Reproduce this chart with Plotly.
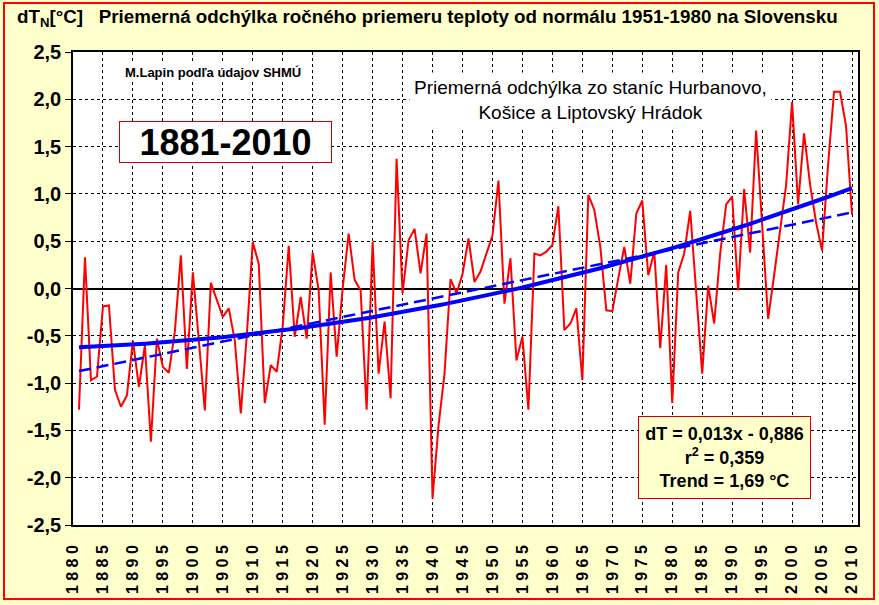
import numpy as np
import plotly.graph_objects as go

# ---------------- data ----------------
YEARS = list(range(1881, 2011))
ANOMALY = [
    -1.28, 0.33, -0.97, -0.93, -0.19, -0.18, -1.07, -1.25, -1.13, -0.55,   # 1881-1890
    -1.04, -0.60, -1.62, -0.53, -0.83, -0.89, -0.45, 0.35, -0.85, 0.17,    # 1891-1900
    -0.55, -1.29, 0.06, -0.13, -0.30, -0.21, -0.55, -1.32, -0.50, 0.49,    # 1901-1910
    0.26, -1.21, -0.81, -0.88, -0.40, 0.45, -0.51, -0.09, -0.53, 0.38,     # 1911-1920
    -0.02, -1.44, 0.17, -0.72, 0.00, 0.58, 0.09, -0.02, -1.28, 0.49,       # 1921-1930
    -0.90, -0.35, -1.16, 1.37, -0.05, 0.51, 0.63, 0.16, 0.58, -2.22,       # 1931-1940
    -1.45, -0.90, 0.10, -0.05, 0.15, 0.53, 0.07, 0.18, 0.37, 0.56,         # 1941-1950
    1.14, -0.16, 0.32, -0.76, -0.51, -1.28, 0.37, 0.35, 0.39, 0.46,        # 1951-1960
    0.87, -0.44, -0.37, -0.21, -0.97, 0.99, 0.83, 0.44, -0.23, -0.24,      # 1961-1970
    0.11, 0.44, 0.05, 0.79, 0.93, 0.14, 0.39, -0.63, 0.25, -1.21,          # 1971-1980
    0.17, 0.37, 0.82, -0.06, -0.90, 0.03, -0.37, 0.37, 0.89, 0.97,         # 1981-1990
    -0.02, 1.05, 0.38, 1.67, 0.67, -0.32, 0.14, 0.63, 1.09, 1.97,          # 1991-2000
    0.89, 1.64, 1.10, 0.70, 0.40, 1.30, 2.08, 2.08, 1.72, 0.78,            # 2001-2010
]
TREND_SLOPE = 0.013
TREND_INTERCEPT = -0.886
POLY_ORDER = 2

X_TICK_YEARS = list(range(1880, 2011, 5))
Y_TICK_VALUES = [2.5, 2.0, 1.5, 1.0, 0.5, 0.0, -0.5, -1.0, -1.5, -2.0, -2.5]
Y_TICK_LABELS = ["2,5", "2,0", "1,5", "1,0", "0,5", "0,0", "-0,5", "-1,0", "-1,5", "-2,0", "-2,5"]

TITLE = "dT<sub>N</sub>[°C]\u00a0\u00a0\u00a0Priemerná odchýlka ročného priemeru teploty od normálu 1951-1980 na Slovensku"
AUTHOR = "M.Lapin podľa údajov SHMÚ"
STATIONS = "Priemerná odchýlka zo staníc Hurbanovo,<br>Košice a Liptovský Hrádok"
PERIOD = "1881-2010"
STATS = "dT = 0,013x - 0,886<br>r<sup>2</sup> = 0,359<br>Trend = 1,69 °C"

# ---------------- derived trend lines ----------------
idx = np.arange(1, len(YEARS) + 1)
lin_trend = TREND_SLOPE * idx + TREND_INTERCEPT
poly = np.polyfit(idx, np.array(ANOMALY), POLY_ORDER)
poly_trend = np.polyval(poly, idx)

# ---------------- layout geometry (pixels) ----------------
W, H = 879, 605
L, R, T, B = 73, 858, 52, 525
PW, PH = R - L, B - T


def px(x):
    return (x - L) / PW


def py(y):
    return (B - y) / PH


FONT = "Arial, 'Liberation Sans', sans-serif"
BG = "#FFFFCC"

fig = go.Figure()
fig.add_trace(go.Scatter(x=YEARS, y=ANOMALY, mode="lines",
                         line=dict(color="#FF0000", width=2), hoverinfo="x+y"))
fig.add_trace(go.Scatter(x=YEARS, y=poly_trend, mode="lines",
                         line=dict(color="#0000FF", width=4)))
fig.add_trace(go.Scatter(x=YEARS, y=lin_trend, mode="lines",
                         line=dict(color="#0000FF", width=2.5, dash="12px,6px")))

xticktext = [" ".join(str(y)) for y in X_TICK_YEARS]

fig.update_layout(
    width=W, height=H,
    margin=dict(l=L, r=W - R, t=T, b=H - B, pad=0),
    paper_bgcolor=BG, plot_bgcolor="white",
    showlegend=False,
    font=dict(family=FONT, color="black"),
    xaxis=dict(range=[1880, 2011], tickmode="array", tickvals=X_TICK_YEARS,
               ticktext=xticktext, tickangle=-90,
               tickfont=dict(size=16, family=FONT, weight="bold"),
               showgrid=True, gridcolor="black", gridwidth=1, griddash="3px,3px",
               showline=True, linecolor="black", linewidth=1.5, mirror=True,
               ticks="", ticklabelstandoff=12, zeroline=False),
    yaxis=dict(range=[-2.5, 2.5], tickmode="array", tickvals=Y_TICK_VALUES,
               ticktext=Y_TICK_LABELS,
               tickfont=dict(size=20, family=FONT, weight="bold"),
               showgrid=True, gridcolor="black", gridwidth=1, griddash="3px,3px",
               showline=True, linecolor="black", linewidth=1.5, mirror=True,
               ticks="outside", ticklen=6, tickcolor="black",
               zeroline=True, zerolinecolor="black", zerolinewidth=2),
)

# outer red frame
fig.add_shape(type="rect", xref="paper", yref="paper",
              x0=px(4), x1=px(874), y0=py(599), y1=py(3),
              line=dict(color="#FF0000", width=2), fillcolor="rgba(0,0,0,0)", layer="below")

ann = []
ann.append(dict(text=TITLE, x=px(15), y=py(18), xanchor="left", yanchor="middle",
                font=dict(size=18.8, family=FONT, weight="bold")))
ann.append(dict(text=AUTHOR, x=px(213), y=py(72), xanchor="center", yanchor="middle",
                font=dict(size=13, family=FONT, weight="bold"), bgcolor="white"))
ann.append(dict(text=STATIONS, x=px(590), y=py(100), xanchor="center", yanchor="middle",
                font=dict(size=19, family=FONT), bgcolor="white", borderpad=4))
ann.append(dict(text=PERIOD, x=px(225), y=py(142), xanchor="center", yanchor="middle",
                width=211, height=40, borderpad=0,
                font=dict(size=36, family=FONT, weight="bold"),
                bgcolor="white", bordercolor="#CC0000", borderwidth=1))
ann.append(dict(text=STATS, x=px(724), y=py(457), xanchor="center", yanchor="middle",
                width=171, height=81, borderpad=0,
                font=dict(size=18, family=FONT, weight="bold"),
                bgcolor=BG, bordercolor="#CC0000", borderwidth=1))
for a in ann:
    a.update(xref="paper", yref="paper", showarrow=False)
fig.update_layout(annotations=ann)

fig.write_html("out.html", config={"displayModeBar": False},
               post_script="document.body.style.margin='0';document.body.style.overflow='hidden';")
